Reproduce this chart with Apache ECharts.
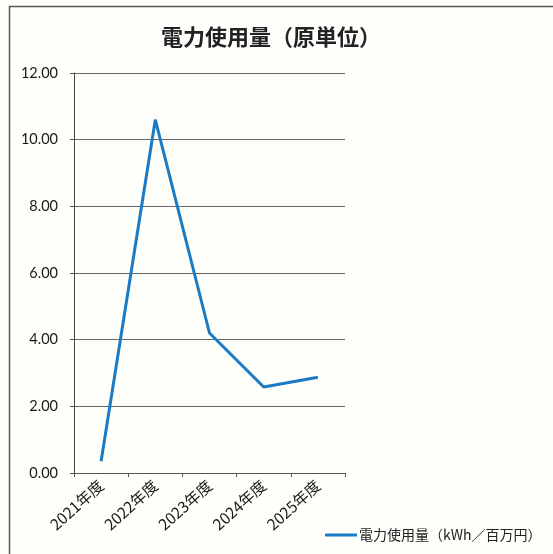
<!DOCTYPE html>
<html>
<head>
<meta charset="utf-8">
<script src="https://cdn.jsdelivr.net/npm/echarts@6/dist/echarts.min.js"></script>
<style>
  html, body { margin: 0; padding: 0; background: #fefefb; }
  #chart { width: 553px; height: 554px; }
</style>
</head>
<body>
<div id="chart"></div>
<script>
// 年度
var categories = ['2021年度', '2022年度', '2023年度', '2024年度', '2025年度'];
// 電力使用量（原単位）
var usageValues = [0.35, 10.6, 4.2, 2.58, 2.87];
var seriesName = '電力使用量（kWh／百万円）';

var cjk = '"Noto Sans CJK JP", sans-serif';

var chart = echarts.init(document.getElementById('chart'));
chart.setOption({
  backgroundColor: '#fefefb',
  animation: false,
  title: {
    text: '電力使用量（原単位）',
    left: 156,
    top: 21,
    textStyle: {
      color: '#222',
      fontSize: 22,
      fontWeight: 'bold',
      fontFamily: cjk
    }
  },
  // 外枠
  graphic: [{
    type: 'rect',
    shape: { x: 9.5, y: 6.5, width: 600, height: 600 },
    style: { fill: 'none', stroke: '#555', lineWidth: 1.5 },
    silent: true
  }],
  legend: {
    data: [{ name: seriesName, icon: 'rect' }],
    left: 320,
    top: 523,
    itemWidth: 32,
    itemHeight: 3,
    itemGap: 2,
    textStyle: {
      color: '#222',
      fontSize: 14,
      fontFamily: cjk,
      padding: [0, 0, 0, -3]
    }
  },
  grid: {
    left: 74,
    right: 208,
    top: 73,
    bottom: 81
  },
  xAxis: {
    type: 'category',
    data: categories,
    boundaryGap: true,
    axisLine: { lineStyle: { color: '#555', width: 1 } },
    axisTick: { show: true, length: 4, lineStyle: { color: '#555' } },
    axisLabel: {
      rotate: 42,
      margin: 10,
      color: '#1a1a1a',
      fontSize: 15.5,
      fontFamily: cjk
    }
  },
  yAxis: {
    type: 'value',
    min: 0,
    max: 12,
    interval: 2,
    axisLine: { show: true, lineStyle: { color: '#444', width: 1 } },
    axisTick: { show: true, length: 4, lineStyle: { color: '#555' } },
    axisLabel: {
      margin: 16,
      color: '#1a1a1a',
      fontSize: 14.5,
      fontFamily: 'Lato, "Open Sans", sans-serif',
      formatter: function (v) { return v.toFixed(2); }
    },
    splitLine: { lineStyle: { color: '#666', width: 1 } }
  },
  series: [{
    name: seriesName,
    type: 'line',
    data: usageValues,
    showSymbol: false,
    symbol: 'none',
    itemStyle: { color: '#1a7bc4' },
    lineStyle: { color: '#1a7bc4', width: 3 }
  }]
});
</script>
</body>
</html>
